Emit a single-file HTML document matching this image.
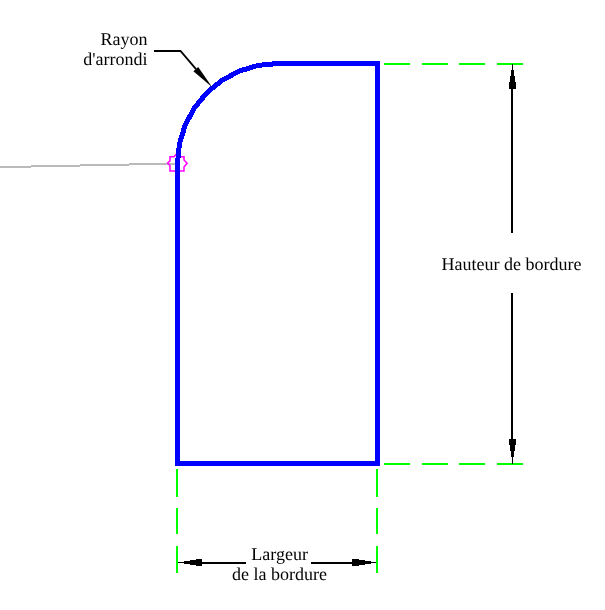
<!DOCTYPE html>
<html><head><meta charset="utf-8">
<style>
html,body{margin:0;padding:0;background:#fff;width:605px;height:610px;overflow:hidden}
svg{position:absolute;left:0;top:0;display:block;will-change:transform}
text{font-family:"Liberation Serif",serif;font-size:18px;fill:#000;text-rendering:geometricPrecision}
</style></head><body>
<svg width="605" height="610" viewBox="0 0 605 610">
<g fill="#bababa"><rect x="0" y="166" width="31" height="2"/><rect x="31" y="165" width="49" height="2"/><rect x="80" y="164" width="49" height="2"/><rect x="129" y="163" width="48" height="2"/></g>
<path d="M170 156.8 L174 156.8 L176.5 154 L180 156.8 L184 156.8 L184 160 L187.1 163.3 L184 167 L184 171 L170 171 L170 165.6 L167.6 163 L170 160.8 Z" stroke="#ff00ff" stroke-width="1.5" fill="none"/>
<g fill="#0000ff"><rect x="175" y="161" width="5" height="305"/><rect x="175" y="461" width="205" height="5"/><rect x="375" y="61" width="5" height="405"/><rect x="275" y="61" width="105" height="5"/></g>
<path d="M177.5 166 L177.50 163.50 L179.42 143.99 L185.11 125.23 L194.35 107.94 L206.79 92.79 L221.94 80.35 L239.23 71.11 L257.99 65.42 L277.50 63.50 L280 63.5" stroke="#0000ff" stroke-width="5" fill="none" shape-rendering="crispEdges"/>
<g fill="#00ff00">
<rect x="384" y="63" width="26" height="2"/><rect x="422" y="63" width="26" height="2"/><rect x="459" y="63" width="26" height="2"/><rect x="497" y="63" width="26" height="2"/>
<rect x="384" y="463" width="26" height="2"/><rect x="422" y="463" width="26" height="2"/><rect x="459" y="463" width="26" height="2"/><rect x="497" y="463" width="26" height="2"/>
<rect x="176" y="469" width="2" height="28"/><rect x="176" y="508" width="2" height="26"/><rect x="176" y="546" width="2" height="27"/>
<rect x="376" y="469" width="2" height="28"/><rect x="376" y="508" width="2" height="26"/><rect x="376" y="546" width="2" height="27"/>
</g>
<g fill="#000">
<!-- vertical dimension top -->
<rect x="512" y="64" width="1" height="6"/><rect x="511" y="70" width="3" height="6"/><rect x="510" y="76" width="5" height="6"/><rect x="509" y="82" width="7" height="7"/>
<rect x="511" y="89" width="2" height="144"/>
<!-- vertical dimension bottom -->
<rect x="511" y="293" width="2" height="146"/>
<rect x="509" y="439" width="7" height="6"/><rect x="510" y="445" width="5" height="6"/><rect x="511" y="451" width="3" height="6"/><rect x="512" y="457" width="1" height="7"/>
<!-- horizontal dimension left -->
<rect x="178" y="562" width="6" height="1"/><rect x="184" y="561" width="6" height="3"/><rect x="190" y="560" width="6" height="5"/><rect x="196" y="559" width="6" height="7"/>
<rect x="202" y="562" width="44" height="2"/>
<!-- horizontal dimension right -->
<rect x="311" y="562" width="41" height="2"/>
<rect x="352" y="559" width="7" height="7"/><rect x="359" y="560" width="6" height="5"/><rect x="365" y="561" width="6" height="3"/><rect x="371" y="562" width="5" height="1"/>
<!-- leader arrowhead -->
<path d="M212.2 87.3 L193.4 71.2 L198.2 67.1 Z"/>
</g>
<path d="M154 51 H180.5 L196 69.2" stroke="#000" stroke-width="1.8" fill="none"/>
<text x="511.6" y="270" text-anchor="middle">Hauteur de bordure</text>
<text x="147.5" y="45" text-anchor="end">Rayon</text>
<text x="147.5" y="65" text-anchor="end">d'arrondi</text>
<text x="279.6" y="560" text-anchor="middle">Largeur</text>
<text x="279.6" y="579.6" text-anchor="middle">de la bordure</text>
</svg>
</body></html>
